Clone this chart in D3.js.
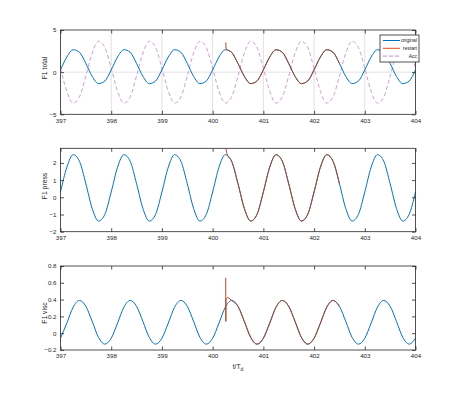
<!DOCTYPE html>
<html><head><meta charset="utf-8">
<script src="https://cdn.jsdelivr.net/npm/d3@7"></script>
<style>body{margin:0;background:#fff}svg{display:block}text{font-family:"Liberation Sans",Arial,sans-serif;fill:#262626}</style>
</head><body><svg id="c" width="461" height="396"></svg>
<script>
const tGrid = [397,397.125,397.25,397.375,397.5,397.625,397.75,397.875,
398,398.125,398.25,398.375,398.5,398.625,398.75,398.875,
399,399.125,399.25,399.375,399.5,399.625,399.75,399.875,
400,400.125,400.25,400.375,400.5,400.625,400.75,400.875,
401,401.125,401.25,401.375,401.5,401.625,401.75,401.875,
402,402.125,402.25,402.375,402.5,402.625,402.75,402.875,
403,403.125,403.25,403.375,403.5,403.625,403.75,403.875,404];
const totalOrig = [0.27,1.80,2.66,2.35,1.03,-0.50,-1.36,-1.05,
0.27,1.80,2.66,2.35,1.03,-0.50,-1.36,-1.05,
0.27,1.80,2.66,2.35,1.03,-0.50,-1.36,-1.05,
0.27,1.80,2.66,2.35,1.03,-0.50,-1.36,-1.05,
0.27,1.80,2.66,2.35,1.03,-0.50,-1.36,-1.05,
0.27,1.80,2.66,2.35,1.03,-0.50,-1.36,-1.05,
0.27,1.80,2.66,2.35,1.03,-0.50,-1.36,-1.05,0.27];
const accVals = [0.46,-2.27,-3.67,-2.92,-0.46,2.27,3.67,2.92,
0.46,-2.27,-3.67,-2.92,-0.46,2.27,3.67,2.92,
0.46,-2.27,-3.67,-2.92,-0.46,2.27,3.67,2.92,
0.46,-2.27,-3.67,-2.92,-0.46,2.27,3.67,2.92,
0.46,-2.27,-3.67,-2.92,-0.46,2.27,3.67,2.92,
0.46,-2.27,-3.67,-2.92,-0.46,2.27,3.67,2.92,
0.46,-2.27,-3.67,-2.92,-0.46,2.27,3.67,2.92,0.46];
const pressOrig = [0.31,1.75,2.48,2.09,0.79,-0.65,-1.38,-0.99,
0.31,1.75,2.48,2.09,0.79,-0.65,-1.38,-0.99,
0.31,1.75,2.48,2.09,0.79,-0.65,-1.38,-0.99,
0.31,1.75,2.48,2.09,0.79,-0.65,-1.38,-0.99,
0.31,1.75,2.48,2.09,0.79,-0.65,-1.38,-0.99,
0.31,1.75,2.48,2.09,0.79,-0.65,-1.38,-0.99,
0.31,1.75,2.48,2.09,0.79,-0.65,-1.38,-0.99,0.31];
const viscOrig = [-0.06,0.12,0.31,0.39,0.32,0.14,-0.05,-0.13,
-0.06,0.12,0.31,0.39,0.32,0.14,-0.05,-0.13,
-0.06,0.12,0.31,0.39,0.32,0.14,-0.05,-0.13,
-0.06,0.12,0.31,0.39,0.32,0.14,-0.05,-0.13,
-0.06,0.12,0.31,0.39,0.32,0.14,-0.05,-0.13,
-0.06,0.12,0.31,0.39,0.32,0.14,-0.05,-0.13,
-0.06,0.12,0.31,0.39,0.32,0.14,-0.05,-0.13,-0.06];

const restartTotalT = [400.26,400.265,400.375,400.5,400.625,400.75,400.875,401,401.125,401.25,401.375,401.5,401.625,401.75,401.875,402,402.125,402.25,402.375,402.5];
const restartTotal = [3.52,2.78,2.35,1.03,-0.50,-1.36,-1.05,0.27,1.80,2.66,2.35,1.03,-0.50,-1.36,-1.05,0.27,1.80,2.66,2.35,1.03];
const restartPressT = [400.26,400.28,400.375,400.5,400.625,400.75,400.875,401,401.125,401.25,401.375,401.5,401.625,401.75,401.875,402,402.125,402.25,402.375,402.5];
const restartPress = [2.84,2.55,2.09,0.79,-0.65,-1.38,-0.99,0.31,1.75,2.48,2.09,0.79,-0.65,-1.38,-0.99,0.31,1.75,2.48,2.09,0.79];
const restartViscT = [400.258,400.26,400.264,400.3,400.33,400.375,400.5,400.625,400.75,400.875,401,401.125,401.25,401.375,401.5,401.625,401.75,401.875,402,402.125,402.25,402.375,402.5];
const restartVisc = [0.66,0.14,0.41,0.425,0.41,0.39,0.32,0.14,-0.05,-0.13,-0.06,0.12,0.31,0.39,0.32,0.14,-0.05,-0.13,-0.06,0.12,0.31,0.39,0.32];

const xTicks = [397,398,399,400,401,402,403,404];
const yTicks1 = [-5,0,5];
const yTicks2 = [-2,-1,0,1,2];
const yTicks3 = [-0.2,0,0.2,0.4,0.6,0.8];
const legendLabels = ["original","restart","Acc"];

const svg = d3.select("#c");
const X0 = 60.5, X1 = 415.5;
const x = d3.scaleLinear().domain([397,404]).range([X0,X1]);
const BLUE = "#0072BD", RED = "#b5421e", REDLEG = "#D95319", ACC = "#c585c8", AX = "#262626";

function panel(id, top, bottom, ydom, yticks, fmt, label, labelY, grid, series) {
  const y = d3.scaleLinear().domain(ydom).range([bottom, top]);
  const g = svg.append("g");
  g.append("clipPath").attr("id", "cp" + id).append("rect")
    .attr("x", X0).attr("y", top).attr("width", X1 - X0).attr("height", bottom - top);
  if (grid) {
    g.append("g").selectAll("line").data(xTicks.slice(1, -1)).join("line")
      .attr("x1", d => x(d)).attr("x2", d => x(d)).attr("y1", top).attr("y2", bottom)
      .attr("stroke", "#d9d9d9").attr("stroke-width", 0.8);
    g.append("g").selectAll("line").data(yticks.filter(v => v > ydom[0] && v < ydom[1])).join("line")
      .attr("y1", d => y(d)).attr("y2", d => y(d)).attr("x1", X0).attr("x2", X1)
      .attr("stroke", "#d9d9d9").attr("stroke-width", 0.8);
  }
  const pl = g.append("g").attr("clip-path", `url(#cp${id})`);
  series.forEach(s => {
    const line = d3.line().x((d, i) => x(s.t[i])).y(d => y(d)).curve(d3.curveMonotoneX);
    pl.append("path").attr("d", line(s.v)).attr("fill", "none")
      .attr("stroke", s.c).attr("stroke-width", s.w || 1)
      .attr("stroke-dasharray", s.dash || null);
  });
  const ax = g.append("g");
  ax.append("g").attr("transform", `translate(0,${bottom})`)
    .call(d3.axisBottom(x).tickValues(xTicks).tickSize(-3.5).tickPadding(4).tickFormat(d3.format("d")));
  ax.append("g").attr("transform", `translate(0,${top})`)
    .call(d3.axisTop(x).tickValues(xTicks).tickSize(-3.5).tickFormat(""));
  ax.append("g").attr("transform", `translate(${X0},0)`)
    .call(d3.axisLeft(y).tickValues(yticks).tickSize(-3.5).tickPadding(4).tickFormat(fmt));
  ax.append("g").attr("transform", `translate(${X1},0)`)
    .call(d3.axisRight(y).tickValues(yticks).tickSize(-3.5).tickFormat(""));
  ax.selectAll(".domain").remove();
  ax.selectAll("line").attr("stroke", AX).attr("stroke-width", 0.8);
  ax.selectAll("text").attr("font-size", 6.2).attr("fill", AX).style("font-family", '"Liberation Sans",Arial,sans-serif');
  g.append("rect").attr("x", X0).attr("y", top).attr("width", X1 - X0).attr("height", bottom - top)
    .attr("fill", "none").attr("stroke", AX).attr("stroke-width", 0.8);
  g.append("text").attr("transform", `translate(47,${labelY}) rotate(-90)`)
    .attr("text-anchor", "middle").attr("font-size", 6.8).text(label);
  return y;
}

panel(1, 30, 114.3, [-5,5], yTicks1, d3.format("d"), "F1 total", 68, true, [
  {t: tGrid, v: accVals, c: ACC, w: 0.8, dash: "4,2.5"},
  {t: tGrid, v: totalOrig, c: BLUE, w: 1},
  {t: restartTotalT, v: restartTotal, c: RED, w: 1}
]);
panel(2, 148.3, 231.7, [-2,2.85], yTicks2, d3.format("d"), "F1 press", 186, false, [
  {t: tGrid, v: pressOrig, c: BLUE, w: 1},
  {t: restartPressT, v: restartPress, c: RED, w: 1}
]);
panel(3, 266, 350, [-0.2,0.8], yTicks3, d => d === 0 ? "0" : d3.format(".1f")(d), "F1 visc", 313, false, [
  {t: tGrid, v: viscOrig, c: BLUE, w: 1},
  {t: restartViscT, v: restartVisc, c: RED, w: 1}
]);

const xl = svg.append("text").attr("x", 238).attr("y", 369).attr("text-anchor", "middle").attr("font-size", 6.8);
xl.append("tspan").text("t/T");
xl.append("tspan").attr("font-size", 5).attr("dy", 2).text("d");

const lg = svg.append("g");
lg.append("rect").attr("x", 380).attr("y", 35).attr("width", 39).attr("height", 27)
  .attr("fill", "#fff").attr("stroke", AX).attr("stroke-width", 0.8);
const legCols = [BLUE, REDLEG, ACC];
const legDash = [null, null, "4,2"];
legendLabels.forEach((lab, i) => {
  const yy = 40.5 + i * 7.8;
  lg.append("line").attr("x1", 383).attr("x2", 400).attr("y1", yy).attr("y2", yy)
    .attr("stroke", legCols[i]).attr("stroke-width", 1).attr("stroke-dasharray", legDash[i]);
  lg.append("text").attr("x", 417).attr("y", yy + 1.8).attr("text-anchor", "end").attr("font-size", 5).text(lab);
});
</script></body></html>
